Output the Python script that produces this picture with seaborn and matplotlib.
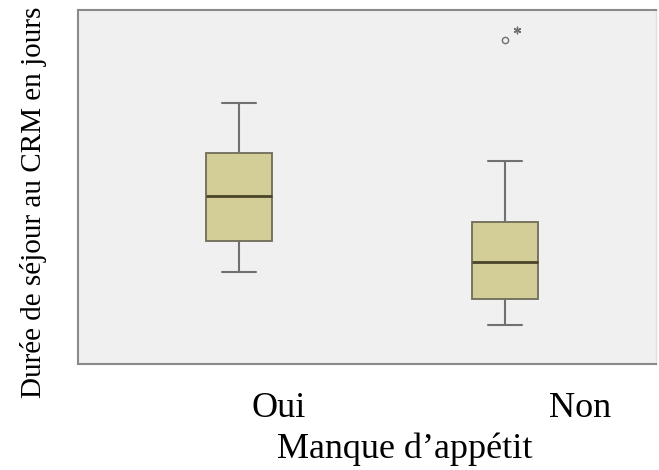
import matplotlib
matplotlib.use("Agg")
import matplotlib.pyplot as plt
import matplotlib.transforms as mtransforms
import seaborn as sns
import pandas as pd

# ---- data (arbitrary day scale; the original has no y tick labels) ----
categories = ["Oui", "Non"]
oui_values = [26.0, 34.7, 47.5, 59.6, 73.7]
non_values = [11.0, 14.0, 18.4, 24.0, 28.8, 34.0, 40.1, 57.3, 91.5]
extreme_category = ["Non"]
extreme_values = [94.4]

df = pd.DataFrame({
    "groupe": ["Oui"] * len(oui_values) + ["Non"] * len(non_values),
    "duree": oui_values + non_values,
})

sns.set_style("white")
plt.rcParams["font.family"] = ["Liberation Serif", "DejaVu Serif"]
plt.rcParams["text.color"] = "black"
plt.rcParams["xtick.labelcolor"] = "black"
plt.rcParams["axes.labelcolor"] = "black"

W, H = 659, 470
fig = plt.figure(figsize=(W / 100, H / 100), dpi=100)
ax_l, ax_r, ax_t, ax_b = 78, 656, 10, 364
ax = fig.add_axes([ax_l / W, 1 - ax_b / H, (ax_r - ax_l) / W, (ax_b - ax_t) / H])
ax.set_facecolor("#f0f0f0")

box_color = "#d3ce97"
edge = "#6f6c58"
sns.boxplot(
    data=df, x="groupe", y="duree", order=categories, ax=ax,
    width=0.25, color=box_color, saturation=1, linewidth=1.3,
    boxprops=dict(facecolor=box_color, edgecolor=edge),
    whiskerprops=dict(color="#707070", linewidth=1.5),
    capprops=dict(color="#707070", linewidth=1.5),
    medianprops=dict(color="#4a4528", linewidth=2.0),
    flierprops=dict(marker="o", markersize=4.5, markerfacecolor="none",
                    markeredgecolor="#707070", markeredgewidth=1.0),
)

# extreme value (SPSS asterisk), slightly offset like SPSS does
ext_x = [categories.index(c) + 0.045 for c in extreme_category]
ax.scatter(ext_x, extreme_values, marker=(6, 2, 0), s=22, color="#707070",
           linewidths=1.0, zorder=5)

unit_px = 266.0
left_units = (239 - ax_l) / unit_px
ax.set_xlim(-left_units, -left_units + (ax_r - ax_l) / unit_px)
ax.set_ylim(0, 100)

ax.set_yticks([])
ax.tick_params(axis="x", length=5, width=1, color="#909090", pad=15,
               labelsize=26, labelcolor="black")

# the pasted SPSS picture shows the category labels shifted to the right
label_shift_px = [40, 75]
for lab, dx in zip(ax.get_xticklabels(), label_shift_px):
    lab.set_transform(lab.get_transform() +
                      mtransforms.ScaledTranslation(dx / 100, 0, fig.dpi_scale_trans))

ax.set_xlabel("Manque d\u2019app\u00e9tit", fontsize=26, color="black")
ax.xaxis.set_label_coords((405 - ax_l) / (ax_r - ax_l), -(432 - ax_b) / (ax_b - ax_t))
ax.set_ylabel("Dur\u00e9e de s\u00e9jour au CRM en jours", fontsize=21, color="black")
ax.yaxis.set_label_coords(-(ax_l - 47) / (ax_r - ax_l), (ax_b - 202) / (ax_b - ax_t))

for side in ["left", "top", "bottom"]:
    ax.spines[side].set_visible(True)
    ax.spines[side].set_color("#8a8a8a")
    ax.spines[side].set_linewidth(1.5)
ax.spines["right"].set_visible(True)
ax.spines["right"].set_color("#e0e0e0")
ax.spines["right"].set_linewidth(1.0)

fig.savefig("out.png", dpi=100)
